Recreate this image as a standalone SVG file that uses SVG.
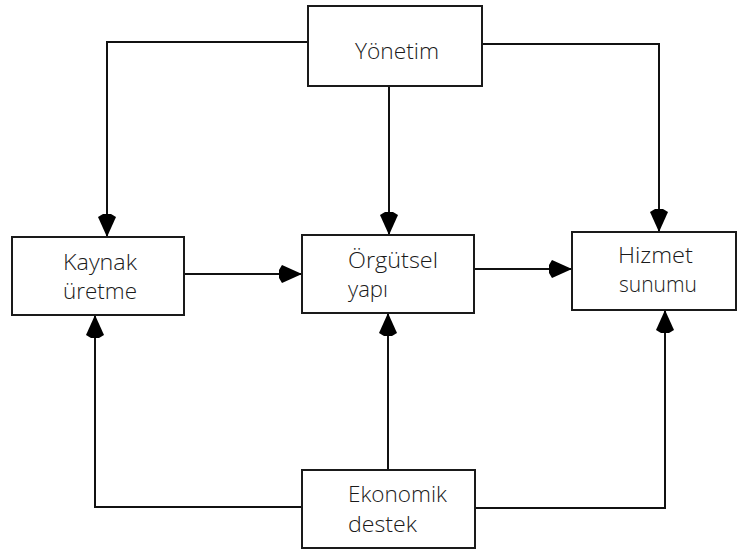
<svg xmlns="http://www.w3.org/2000/svg" width="737" height="552" viewBox="0 0 737 552">
  <style>
    .box { fill: #ffffff; stroke: #1a1a1a; stroke-width: 2; }
    .wire { fill: none; stroke: #111111; stroke-width: 2; marker-end: url(#head); }
    .lbl { font-family: "Open Sans", "Liberation Sans", sans-serif; font-weight: 300; font-size: 22px; fill: #1a1a1a; }
  </style>
  <defs>
    <marker id="head" markerUnits="userSpaceOnUse" markerWidth="26" markerHeight="22" viewBox="0 -11 26 22" refX="23" refY="0" orient="auto">
      <path d="M0,-4 L3,-9 L23,0 L3,9 L0,4 Z" fill="#000000"/>
    </marker>
  </defs>

  <rect width="737" height="552" fill="#ffffff"/>

  <g id="connectors">
    <path class="wire" d="M308,42 H107 V237"/>
    <path class="wire" d="M389,86 V235"/>
    <path class="wire" d="M482,44 H659 V232"/>
    <path class="wire" d="M184,274 H302"/>
    <path class="wire" d="M474,269 H572"/>
    <path class="wire" d="M302,507 H95 V315"/>
    <path class="wire" d="M388,470 V313"/>
    <path class="wire" d="M475,508 H665 V310"/>
  </g>

  <g id="yonetim">
    <rect class="box" x="308" y="6" width="174" height="80"/>
    <text class="lbl" x="355" y="59" textLength="84" lengthAdjust="spacingAndGlyphs">Yönetim</text>
  </g>

  <g id="kaynak-uretme">
    <rect class="box" x="12" y="237" width="172" height="78"/>
    <text class="lbl" x="63" y="270" textLength="74" lengthAdjust="spacingAndGlyphs">Kaynak</text>
    <text class="lbl" x="63" y="299" textLength="74" lengthAdjust="spacingAndGlyphs">üretme</text>
  </g>

  <g id="orgutsel-yapi">
    <rect class="box" x="302" y="235" width="172" height="78"/>
    <text class="lbl" x="348" y="268" textLength="90" lengthAdjust="spacingAndGlyphs">Örgütsel</text>
    <text class="lbl" x="348" y="297" textLength="40" lengthAdjust="spacingAndGlyphs">yapı</text>
  </g>

  <g id="hizmet-sunumu">
    <rect class="box" x="572" y="232" width="164" height="78"/>
    <text class="lbl" x="618" y="263" textLength="75" lengthAdjust="spacingAndGlyphs">Hizmet</text>
    <text class="lbl" x="619" y="292" textLength="78" lengthAdjust="spacingAndGlyphs">sunumu</text>
  </g>

  <g id="ekonomik-destek">
    <rect class="box" x="302" y="470" width="173" height="78"/>
    <text class="lbl" x="348" y="502" textLength="99" lengthAdjust="spacingAndGlyphs">Ekonomik</text>
    <text class="lbl" x="348" y="532" textLength="69" lengthAdjust="spacingAndGlyphs">destek</text>
  </g>
</svg>
